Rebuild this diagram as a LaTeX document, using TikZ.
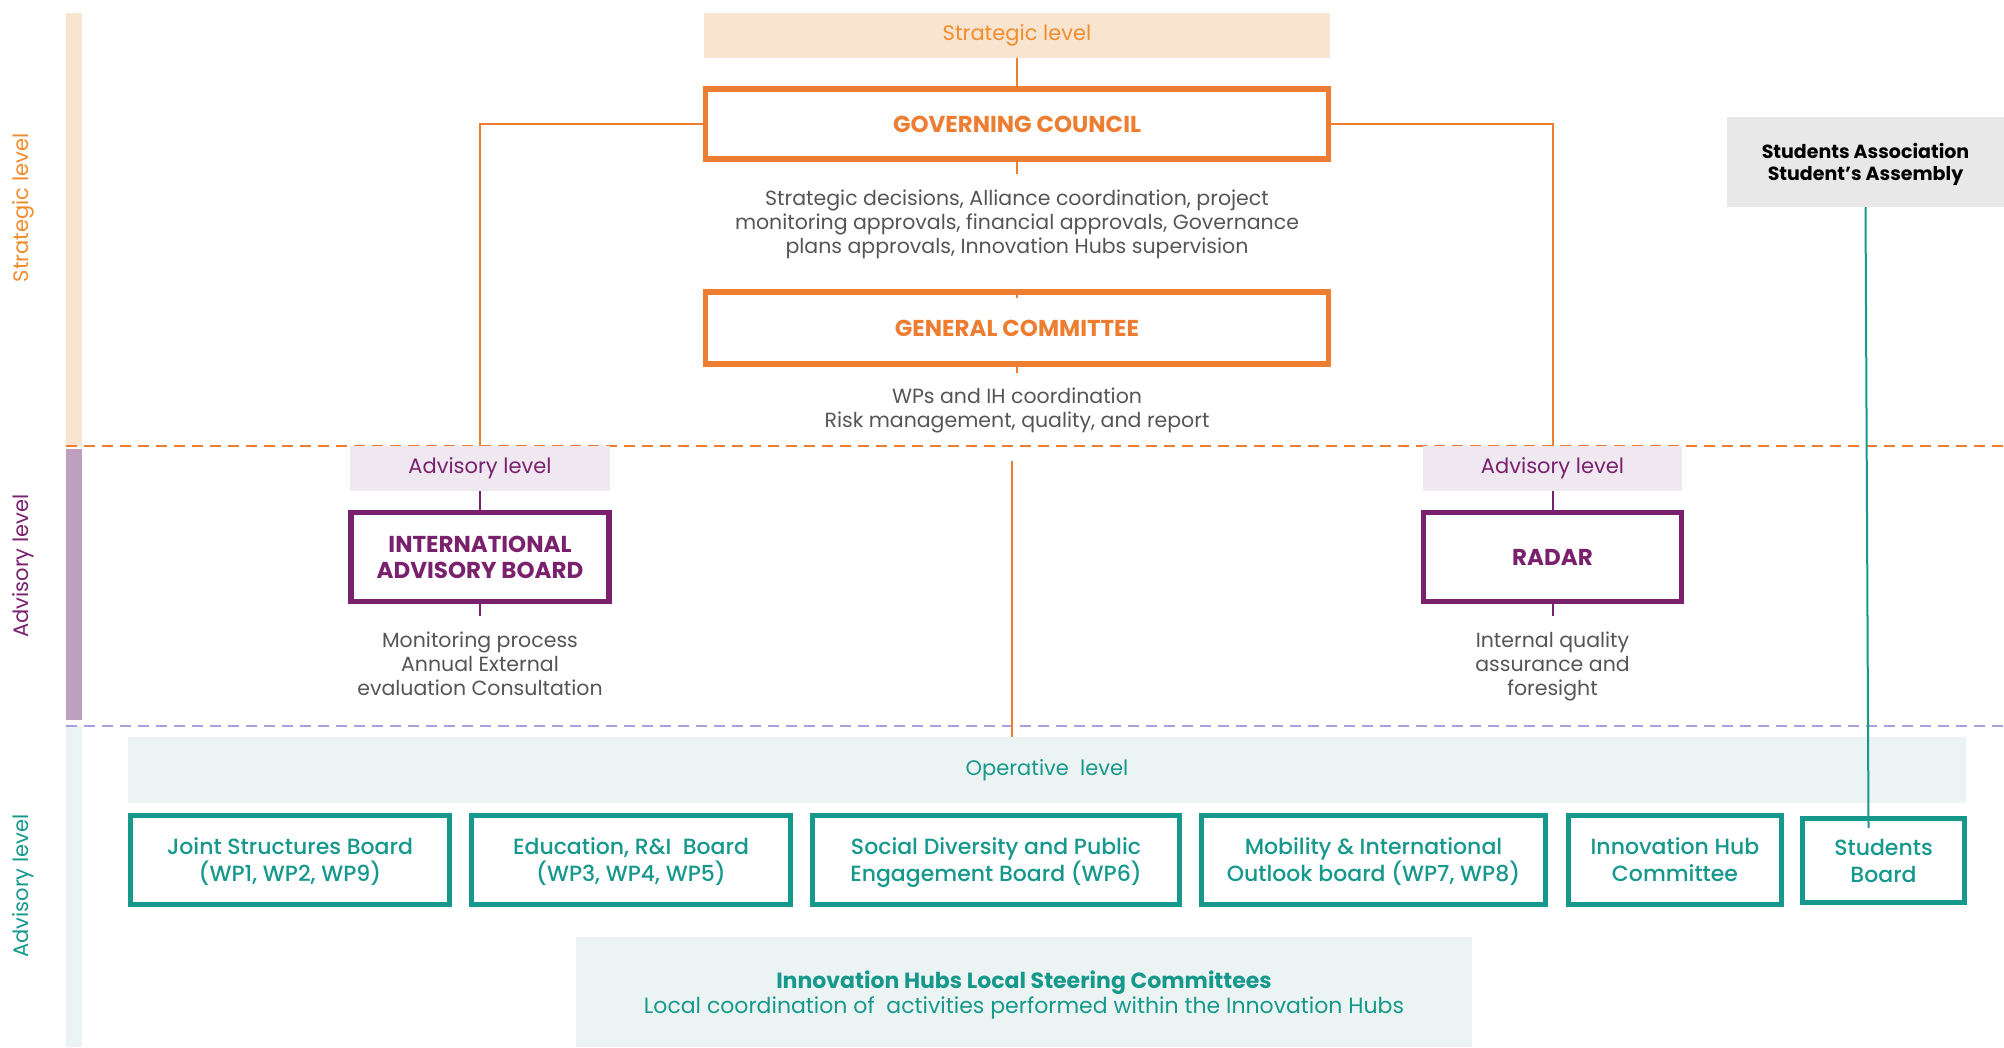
\documentclass[tikz,border=0pt]{standalone}
\usepackage{fontspec}
\setmainfont{Poppins}
\newfontfamily\medfont{Poppins}[UprightFont=* Medium, BoldFont=* SemiBold]

\definecolor{orng}{RGB}{237,125,49}
\definecolor{orngtxt}{RGB}{240,140,45}
\definecolor{peach}{RGB}{249,228,208}
\definecolor{purp}{RGB}{122,33,110}
\definecolor{purpbar}{RGB}{190,160,190}
\definecolor{purpfill}{RGB}{240,232,240}
\definecolor{lav}{RGB}{170,160,225}
\definecolor{teal}{RGB}{22,152,140}
\definecolor{tealfill}{RGB}{236,244,243}
\definecolor{tealbar}{RGB}{234,244,245}
\definecolor{greytxt}{RGB}{85,85,85}
\definecolor{sagrey}{RGB}{232,232,232}

\tikzset{
  lvlhead/.style={fill=#1, minimum height=45pt, inner sep=0pt,
    font=\fontsize{21}{24}\selectfont},
  sidelbl/.style={rotate=90, font=\fontsize{21}{24}\selectfont},
  mainbox/.style={draw=#1, line width=5.5pt, fill=white, text=#1, align=center,
    font=\fontsize{23}{26}\selectfont\bfseries},
  board/.style={draw=teal, line width=5pt, fill=white, text=teal, align=center,
    minimum height=89pt, text depth=0pt, font=\fontsize{22}{27}\selectfont\medfont},
  desc/.style={text=greytxt, align=center, font=\fontsize{20.5}{24}\selectfont},
  link/.style={line width=2pt},
  sep/.style={dashed, dash pattern=on 11pt off 7pt, line width=2.5pt}
}

\begin{document}
\begin{tikzpicture}[x=1pt, y=-1pt]
\useasboundingbox (0,0) rectangle (2004,1047);

% side bars
\fill[peach] (66,13) rectangle (82,446);
\fill[purpbar] (66,449) rectangle (82,720);
\fill[tealbar] (66,726) rectangle (82,1047);
\node[sidelbl, text=orngtxt] (sideS) at (23,208) {Strategic level};
\node[sidelbl, text=purp] (sideA) at (23,566) {Advisory level};
\node[sidelbl, text=teal] (sideO) at (23,886) {Advisory level};

% level separators
\draw[sep, orng] (66,446) -- (2004,446);
\draw[sep, lav] (66,726) -- (2004,726);

% strategic level
\node[lvlhead=peach, text=orngtxt, minimum width=626pt] (hdS) at (1017,35.5) {Strategic level};
\node[mainbox=orng, minimum width=623pt, minimum height=70pt] (gc) at (1017,124) {GOVERNING COUNCIL};
\node[desc, anchor=north, inner ysep=16pt] (gcdesc) at (1017,174)
  {Strategic decisions, Alliance coordination, project\\monitoring approvals, financial approvals, Governance\\plans approvals, Innovation Hubs supervision};
\node[mainbox=orng, minimum width=623pt, minimum height=72pt] (gcom) at (1017,328) {GENERAL COMMITTEE};
\node[desc, anchor=north, inner ysep=15pt] (gcomdesc) at (1017,373)
  {WPs and IH coordination\\Risk management, quality, and report};

\node[fill=sagrey, minimum width=277pt, minimum height=90pt, align=center, text depth=0pt,
  font=\fontsize{19}{22}\selectfont\bfseries] (sa) at (1865.5,162)
  {Students Association\\Student's Assembly};

% advisory level
\node[lvlhead=purpfill, text=purp, minimum width=260pt] (advL) at (480,468.5) {Advisory level};
\node[mainbox=purp, minimum width=258pt, minimum height=89pt] (iab) at (480,557) {INTERNATIONAL\\ADVISORY BOARD};
\node[desc, anchor=north, inner ysep=16pt] (iabdesc) at (480,616)
  {Monitoring process\\Annual External\\evaluation Consultation};
\node[lvlhead=purpfill, text=purp, minimum width=259pt] (advR) at (1552.5,468.5) {Advisory level};
\node[mainbox=purp, minimum width=258pt, minimum height=89pt] (radar) at (1552.5,557) {RADAR};
\node[desc, anchor=north, inner ysep=16pt] (radardesc) at (1552.5,616)
  {Internal quality\\assurance and\\foresight};

% operative level
\node[fill=tealfill, text=teal, minimum width=1838pt, minimum height=66pt,
  font=\fontsize{21}{24}\selectfont] (oplev) at (1047,770) {Operative\ \ level};
\node[board, minimum width=319pt] (jsb) at (290,860) {Joint Structures Board\\(WP1, WP2, WP9)};
\node[board, minimum width=319pt] (edu) at (631,860) {Education, R\&I\ \ Board\\(WP3, WP4, WP5)};
\node[board, minimum width=367pt] (sdp) at (996,860) {Social Diversity and Public\\Engagement Board (WP6)};
\node[board, minimum width=344pt] (mob) at (1373.5,860) {Mobility \& International\\Outlook board (WP7, WP8)};
\node[board, minimum width=213pt] (ihc) at (1675,860) {Innovation Hub\\Committee};
\node[board, minimum width=162pt, minimum height=84pt] (sb) at (1883.5,860.5) {Students\\Board};
\node[fill=tealfill, text=teal, minimum width=896pt, minimum height=110pt, align=center,
  text depth=-2pt, font=\fontsize{22}{25.5}\selectfont] (lsc) at (1024,992)
  {{\bfseries Innovation Hubs Local Steering Committees}\\Local coordination of\ \ activities performed within the Innovation Hubs};

% connectors
\coordinate (opin) at (1012,461);
\draw[link, orng] (hdS) -- (gc);
\draw[link, orng] (gc.south) -- (gcdesc.north);
\draw[link, orng] ([yshift=-23pt]gcdesc.south) -- (gcom.north);
\draw[link, orng] (gcom.south) -- (gcomdesc.north);
\draw[link, orng] (gc.west) -| (advL.north);
\draw[link, orng] (gc.east) -| (advR.north);
\draw[link, orng] (opin) -- (opin |- oplev.north);
\draw[link, purp] (advL) -- (iab);
\draw[link, purp] (iab.south) -- (iabdesc.north);
\draw[link, purp] (advR) -- (radar);
\draw[link, purp] (radar.south) -- (radardesc.north);
\draw[link, teal] (sa.south) -- ([xshift=-15pt, yshift=-12pt]sb.north);
\end{tikzpicture}
\end{document}
